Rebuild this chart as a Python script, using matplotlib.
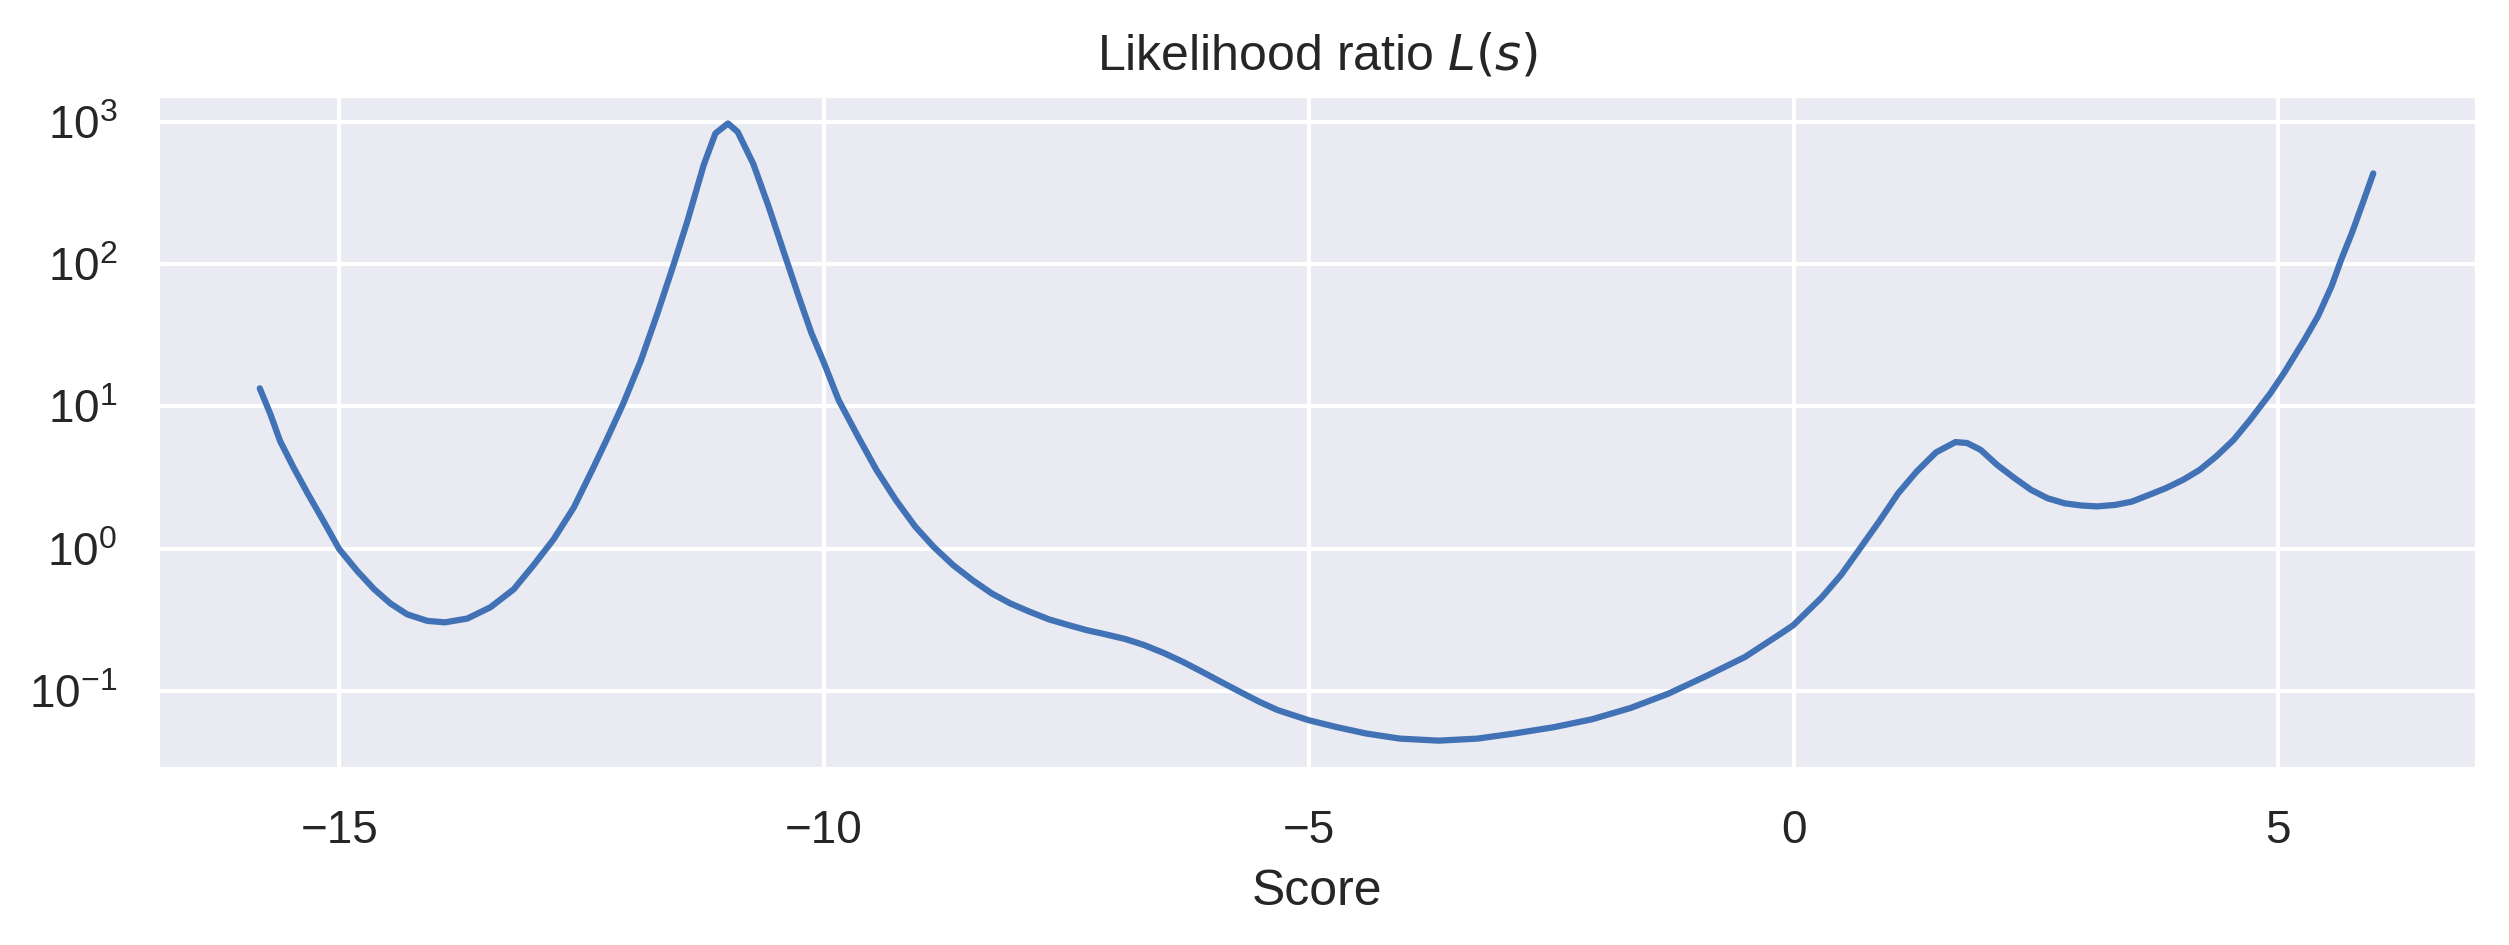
import numpy as np
import matplotlib
matplotlib.use("Agg")
import matplotlib.pyplot as plt
import seaborn as sns

# values (score, likelihood ratio)
score = [
    -15.82, -15.71, -15.61, -15.47, -15.33, -15.16, -15.00, -14.81, -14.64, -14.47,
    -14.30, -14.09, -13.91, -13.68, -13.44, -13.20, -12.99, -12.79, -12.58, -12.38,
    -12.24, -12.07, -11.89, -11.72, -11.55, -11.41, -11.24, -11.12, -10.99, -10.89,
    -10.73, -10.57, -10.41, -10.26, -10.13, -10.00, -9.85, -9.65, -9.46, -9.26,
    -9.06, -8.87, -8.67, -8.47, -8.27, -8.08, -7.88, -7.68, -7.48, -7.29,
    -7.09, -6.89, -6.70, -6.50, -6.30, -6.10, -5.91, -5.71, -5.51, -5.32,
    -5.00, -4.72, -4.41, -4.06, -3.66, -3.26, -2.87, -2.47, -2.08, -1.68,
    -1.29, -0.90, -0.50, -0.11, 0.00, 0.29, 0.49, 0.68, 0.88, 1.08,
    1.27, 1.47, 1.67, 1.79, 1.93, 2.10, 2.28, 2.45, 2.62, 2.80,
    2.97, 3.13, 3.32, 3.49, 3.67, 3.84, 4.02, 4.19, 4.36, 4.54,
    4.71, 4.92, 5.06, 5.27, 5.41, 5.55, 5.65, 5.76, 5.86, 5.98,
]
ratio = [
    13.4, 8.81, 5.70, 3.70, 2.47, 1.55, 0.99, 0.690, 0.518, 0.410,
    0.345, 0.310, 0.303, 0.322, 0.387, 0.518, 0.774, 1.16, 1.95, 3.70,
    5.87, 10.5, 20.9, 44.7, 100, 200, 501, 832, 977, 851,
    509, 253, 119, 58.9, 32.8, 20.2, 11.1, 6.15, 3.58, 2.20,
    1.43, 1.03, 0.767, 0.601, 0.484, 0.412, 0.360, 0.318, 0.290, 0.267,
    0.249, 0.231, 0.210, 0.185, 0.160, 0.136, 0.116, 0.0984, 0.0837, 0.0731,
    0.0621, 0.0557, 0.0501, 0.0461, 0.0446, 0.0461, 0.0502, 0.0555, 0.0630, 0.0757,
    0.0955, 0.127, 0.173, 0.258, 0.290, 0.453, 0.652, 0.989, 1.54, 2.45,
    3.48, 4.75, 5.61, 5.53, 4.95, 3.88, 3.13, 2.59, 2.26, 2.08,
    2.01, 1.98, 2.03, 2.14, 2.39, 2.66, 3.05, 3.58, 4.45, 5.82,
    8.05, 12.4, 17.2, 29.4, 43.1, 70.0, 108, 166, 256, 435,
]

sns.set_theme(style="darkgrid")
plt.rcParams["font.family"] = ["Liberation Sans", "DejaVu Sans"]

fig = plt.figure(figsize=(2509 / 300, 945 / 300), dpi=300)
ax = fig.add_axes([157 / 2509, 1 - 769 / 945, (2477 - 157) / 2509, (769 - 95) / 945])

ax.plot(score, ratio, color="#4272b6", lw=1.5)
ax.set_yscale("log")
ax.set_xlim(-16.88, 7.05)
ax.set_ylim(10 ** -1.55, 10 ** 3.19)
ax.set_xlabel("Score")
ax.set_title("Likelihood ratio $L(s)$")

fig.savefig("out.png", dpi=300)
